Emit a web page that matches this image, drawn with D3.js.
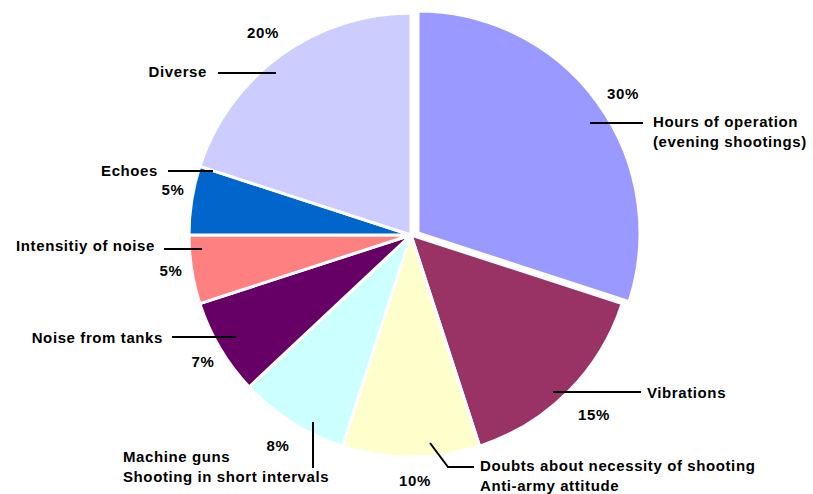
<!DOCTYPE html>
<html>
<head>
<meta charset="utf-8">
<script src="https://cdn.jsdelivr.net/npm/d3@7"></script>
<style>
  body { margin: 0; background: #fff; }
  text { font-family: "Liberation Sans", Arial, sans-serif; font-weight: bold; font-size: 15px; letter-spacing: 0.6px; fill: #000; }
</style>
</head>
<body>
<div id="chart"></div>
<script>
// slices, clockwise from 12 o'clock
var categories = [
  ["Hours of operation", "(evening shootings)"],
  ["Vibrations"],
  ["Doubts about necessity of shooting", "Anti-army attitude"],
  ["Machine guns", "Shooting in short intervals"],
  ["Noise from tanks"],
  ["Intensitiy of noise"],
  ["Echoes"],
  ["Diverse"]
];
var values = [30, 15, 10, 8, 7, 5, 5, 20];
var pctLabels = ["30%", "15%", "10%", "8%", "7%", "5%", "5%", "20%"];
var colors = ["#9999ff", "#993366", "#ffffcc", "#ccffff", "#660066", "#ff8080", "#0066cc", "#ccccff"];

// label placement (annotation layout, not data)
// line: leader polyline, txt: [x, y, anchor], pct: [x, y]
var layout = [
  { line: [[590, 123], [643, 123]], txt: [653, 127, "start"], pct: [623, 99] },
  { line: [[553, 392], [641, 392]], txt: [647, 398, "start"], pct: [594, 420] },
  { line: [[430, 443], [448, 467], [474, 467]], txt: [480, 471, "start"], pct: [415, 486] },
  { line: [[313, 422], [313, 468]], txt: [123, 462, "start"], pct: [278, 451] },
  { line: [[172, 337], [236, 337]], txt: [163, 343, "end"], pct: [203, 367] },
  { line: [[164, 249], [202, 249]], txt: [155, 251, "end"], pct: [171, 276] },
  { line: [[168, 171], [213, 171]], txt: [158, 176, "end"], pct: [173, 195] },
  { line: [[218, 73], [276, 73]], txt: [207, 77, "end"], pct: [263, 38] }
];

var width = 813, height = 494;
var cx = 411, cy = 235, radius = 222;
var explode = [[7, -2], null, null, null, null, null, null, null];

var svg = d3.select("#chart").append("svg")
  .attr("width", width)
  .attr("height", height);

var pie = d3.pie().sort(null).value(d => d)(values);
var arc = d3.arc().innerRadius(0).outerRadius(radius);

var g = svg.append("g").attr("transform", "translate(" + cx + "," + cy + ")");

g.selectAll("path")
  .data(pie)
  .enter()
  .append("path")
  .attr("d", arc)
  .attr("transform", (d, i) => explode[i] ? "translate(" + explode[i][0] + "," + explode[i][1] + ")" : null)
  .attr("fill", (d, i) => colors[i])
  .attr("stroke", "#fff")
  .attr("stroke-width", 3)
  .attr("stroke-linejoin", "round");

var line = d3.line();

var labels = svg.append("g").selectAll("g")
  .data(layout)
  .enter()
  .append("g");

labels.append("path")
  .attr("d", d => line(d.line))
  .attr("fill", "none")
  .attr("stroke", "#000")
  .attr("stroke-width", 2);

labels.append("text")
  .attr("x", d => d.pct[0])
  .attr("y", d => d.pct[1])
  .attr("text-anchor", "middle")
  .text((d, i) => pctLabels[i]);

labels.each(function (d, i) {
  var t = d3.select(this).append("text")
    .attr("x", d.txt[0])
    .attr("y", d.txt[1])
    .attr("text-anchor", d.txt[2]);
  categories[i].forEach(function (s, j) {
    t.append("tspan")
      .attr("x", d.txt[0])
      .attr("dy", j === 0 ? 0 : 20)
      .text(s);
  });
});
</script>
</body>
</html>
